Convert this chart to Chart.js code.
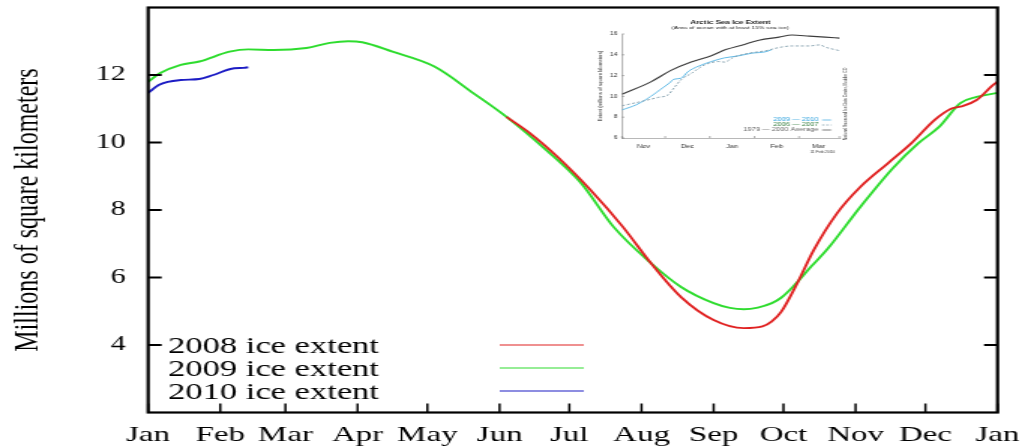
<!DOCTYPE html>
<html>
<head>
<meta charset="utf-8">
<script src="https://cdn.jsdelivr.net/npm/chart.js@4/dist/chart.umd.min.js"></script>
<style>
  html, body { margin: 0; padding: 0; background: #fff; }
  #wrap { position: relative; width: 1022px; height: 448px; overflow: hidden; }
  #main { position: absolute; left: 0; top: 0; width: 1022px; height: 448px; }
  #inset { position: absolute; left: 596px; top: 14px; width: 254px; height: 146px; }
</style>
</head>
<body>
<div id="wrap">
  <canvas id="main" width="681" height="448" style="width:1022px;height:448px"></canvas>
  <canvas id="inset" width="169" height="146" style="width:254px;height:146px"></canvas>
</div>
<script>
// main chart: x is day of year
const monthLabels = ["Jan", "Feb", "Mar", "Apr", "May", "Jun", "Jul", "Aug", "Sep", "Oct", "Nov", "Dec", "Jan"];
const monthStarts = [0, 31, 59, 90, 120, 151, 181, 212, 243, 273, 304, 334, 365];
const yTicks = [2, 4, 6, 8, 10, 12, 14];

const days2008 = [154, 164, 176, 190, 204, 216, 229, 243, 256, 264, 268, 272, 279, 286, 296, 306, 318, 328, 338, 345, 350, 356, 363, 365];
const ice2008 = [10.76, 10.28, 9.57, 8.6, 7.5, 6.43, 5.42, 4.74, 4.5, 4.55, 4.7, 4.98, 5.84, 6.81, 7.9, 8.68, 9.39, 9.98, 10.67, 11.0, 11.08, 11.26, 11.7, 11.8];

const days2009 = [0, 5, 14, 22, 35, 43, 54, 68, 78, 86, 92, 105, 123, 140, 154, 171, 186, 200, 216, 229, 243, 250, 256, 262, 268, 272, 277, 285, 292, 306, 320, 331, 340, 349, 356, 365];
const ice2009 = [11.8, 12.05, 12.3, 12.4, 12.69, 12.76, 12.74, 12.8, 12.95, 13.0, 12.97, 12.69, 12.25, 11.45, 10.76, 9.78, 8.8, 7.5, 6.43, 5.72, 5.24, 5.1, 5.06, 5.11, 5.24, 5.4, 5.72, 6.33, 6.85, 8.09, 9.24, 9.98, 10.47, 11.17, 11.35, 11.47];

const days2010 = [0, 5, 14, 22, 28, 37, 41, 43];
const ice2010 = [11.47, 11.72, 11.85, 11.88, 12.0, 12.2, 12.21, 12.23];

// inset chart: x is days since Nov 1
const insetLabels = ["Nov", "Dec", "Jan", "Feb", "Mar"];
const insetLabelDays = [15, 45.5, 76.5, 107.5, 136.5];
const insetMonthEdges = [0, 30, 61, 92, 123, 151];
const insetYTicks = [6, 8, 10, 12, 14, 16];

const daysAvg = [0, 20, 34, 48, 62, 72, 85, 95, 109, 118, 130, 141, 151];
const iceAvg = [10.2, 11.4, 12.5, 13.3, 13.9, 14.5, 15.0, 15.4, 15.7, 15.9, 15.8, 15.7, 15.6];
const days0910 = [0, 10, 20, 27, 33, 36, 41, 46, 53, 62, 71, 81, 90, 100, 104];
const ice0910 = [8.7, 9.2, 10.0, 10.7, 11.3, 11.65, 11.75, 12.4, 12.9, 13.35, 13.7, 13.9, 14.15, 14.3, 14.5];
const days0607 = [0, 13, 25, 32, 36, 41, 48, 57, 67, 71, 78, 88, 100, 109, 118, 130, 137, 142, 151];
const ice0607 = [9.1, 9.5, 9.9, 10.15, 10.8, 11.6, 12.2, 13.0, 13.35, 13.3, 13.8, 14.15, 14.4, 14.7, 14.85, 14.85, 14.95, 14.7, 14.4];

const pts = (xs, ys) => xs.map((d, i) => ({ x: d, y: ys[i] }));

// month starts plus thirds of each month for the small ticks
const xTickDays = [];
for (let i = 0; i < monthStarts.length - 1; i++) {
  const a = monthStarts[i], len = monthStarts[i + 1] - a;
  xTickDays.push(a, a + len / 3, a + 2 * len / 3);
}
xTickDays.push(365);

const serif = "'Liberation Serif', 'Times New Roman', serif";
const sans = "'Liberation Sans', Arial, sans-serif";

// scales add label padding to the chart area; the layout here is fixed by hand
function noPad(s) {
  s.paddingTop = 0; s.paddingBottom = 0; s.paddingLeft = 0; s.paddingRight = 0;
}

const frameAndTicks = {
  id: 'frameAndTicks',
  afterDatasetsDraw(chart) {
    const { ctx, chartArea: a, scales: { x, y } } = chart;
    ctx.save();
    ctx.strokeStyle = '#000';
    ctx.lineWidth = 2;
    yTicks.slice(1, -1).forEach(v => {
      const py = y.getPixelForValue(v);
      ctx.beginPath();
      ctx.moveTo(a.left, py); ctx.lineTo(a.left + 9, py);
      ctx.moveTo(a.right, py); ctx.lineTo(a.right - 9, py);
      ctx.stroke();
    });
    ctx.lineWidth = 1.5;
    x.ticks.forEach(t => {
      const px = x.getPixelForValue(t.value);
      const len = monthStarts.includes(t.value) ? 9 : 4.5;
      ctx.beginPath();
      ctx.moveTo(px, a.bottom); ctx.lineTo(px, a.bottom - len);
      ctx.stroke();
    });
    ctx.lineWidth = 2.2;
    ctx.strokeRect(a.left, a.top, a.right - a.left, a.bottom - a.top);

    // legend: text on the left, line sample further right
    ctx.font = '23px ' + serif;
    ctx.textBaseline = 'alphabetic';
    ctx.fillStyle = '#000';
    const rows = [345, 368, 391];
    chart.data.datasets.forEach((ds, i) => {
      ctx.fillText(ds.label, 112, rows[i] + 8);
      ctx.strokeStyle = ds.borderColor;
      ctx.lineWidth = 1.2;
      ctx.beginPath();
      ctx.moveTo(333, rows[i]); ctx.lineTo(389, rows[i]);
      ctx.stroke();
    });
    ctx.restore();
  }
};

new Chart(document.getElementById('main'), {
  type: 'line',
  data: {
    datasets: [
      { label: '2008 ice extent', data: pts(days2008, ice2008), borderColor: '#e02222' },
      { label: '2009 ice extent', data: pts(days2009, ice2009), borderColor: '#2edc2e' },
      { label: '2010 ice extent', data: pts(days2010, ice2010), borderColor: '#1c1cc4' }
    ]
  },
  options: {
    responsive: false,
    animation: false,
    devicePixelRatio: 1,
    layout: { autoPadding: false, padding: { left: 0, right: 16.3, top: 7.5, bottom: 0 } },
    elements: {
      point: { radius: 0 },
      line: { borderWidth: 1.9, cubicInterpolationMode: 'monotone' }
    },
    plugins: { legend: { display: false }, tooltip: { enabled: false } },
    scales: {
      x: {
        type: 'linear',
        min: 0,
        max: 365,
        afterBuildTicks: s => { s.ticks = xTickDays.map(v => ({ value: v })); },
        afterFit: s => { s.height = 35.5; noPad(s); },
        grid: { display: false, drawTicks: false },
        border: { display: false },
        ticks: {
          autoSkip: false,
          maxRotation: 0,
          padding: 10,
          color: '#000',
          font: { family: serif, size: 22 },
          callback: v => {
            const i = monthStarts.indexOf(v);
            return i >= 0 ? monthLabels[i] : null;
          }
        }
      },
      y: {
        min: 2,
        max: 14,
        afterBuildTicks: s => { s.ticks = yTicks.map(v => ({ value: v })); },
        afterFit: s => { s.width = 98.7; noPad(s); },
        grid: { display: false, drawTicks: false },
        border: { display: false },
        ticks: {
          padding: 15,
          color: '#000',
          font: { family: serif, size: 20 },
          callback: v => (v === 2 || v === 14) ? null : String(v)
        },
        title: {
          display: true,
          text: 'Millions of square kilometers',
          color: '#000',
          font: { family: serif, size: 24 },
          padding: { top: 4, bottom: 0 }
        }
      }
    }
  },
  plugins: [frameAndTicks]
});

const insetDecor = {
  id: 'insetDecor',
  afterDatasetsDraw(chart) {
    const { ctx, chartArea: a, scales: { x, y } } = chart;
    ctx.save();
    ctx.strokeStyle = '#777';
    ctx.lineWidth = 0.6;
    insetMonthEdges.forEach(d => {
      const px = x.getPixelForValue(d);
      ctx.beginPath(); ctx.moveTo(px, a.bottom); ctx.lineTo(px, a.bottom - 2); ctx.stroke();
    });
    insetYTicks.forEach(v => {
      const py = y.getPixelForValue(v);
      ctx.beginPath(); ctx.moveTo(a.left, py); ctx.lineTo(a.left + 1.6, py); ctx.stroke();
    });

    ctx.textAlign = 'center';
    ctx.textBaseline = 'middle';
    ctx.fillStyle = '#222';
    ctx.font = 'bold 5.4px ' + sans;
    ctx.fillText('Arctic Sea Ice Extent', 89.3, 9);
    ctx.font = '4.3px ' + sans;
    ctx.fillText('(Area of ocean with at least 15% sea ice)', 89.3, 13.5);

    // legend lower right
    const leg = [
      { text: '2009 \u2014 2010', color: '#2a9fdc', line: '#3aa8e0', dash: [], y: 106 },
      { text: '2006 \u2014 2007', color: '#2f7a3a', line: '#6f8f9f', dash: [1.5, 1.2], y: 111 },
      { text: '1979 \u2014 2000 Average', color: '#666', line: '#444', dash: [], y: 116 }
    ];
    ctx.textAlign = 'right';
    ctx.font = '5px ' + sans;
    leg.forEach(l => {
      ctx.fillStyle = l.color;
      ctx.fillText(l.text, 148, l.y);
      ctx.strokeStyle = l.line;
      ctx.lineWidth = 0.7;
      ctx.setLineDash(l.dash);
      ctx.beginPath(); ctx.moveTo(150.5, l.y); ctx.lineTo(156.5, l.y); ctx.stroke();
    });
    ctx.setLineDash([]);

    ctx.fillStyle = '#333';
    ctx.font = '3px ' + sans;
    ctx.textAlign = 'center';
    ctx.fillText('11 Feb 2010', 150.7, 138.5);

    ctx.translate(166, 90);
    ctx.rotate(-Math.PI / 2);
    ctx.font = '3.4px ' + sans;
    ctx.fillStyle = '#333';
    ctx.fillText('National Snow and Ice Data Center, Boulder CO', 0, 0);
    ctx.restore();
  }
};

new Chart(document.getElementById('inset'), {
  type: 'line',
  data: {
    datasets: [
      { label: '1979-2000 Average', data: pts(daysAvg, iceAvg), borderColor: '#3c3c3c', borderWidth: 1.1 },
      { label: '2006-2007', data: pts(days0607, ice0607), borderColor: '#6f8f9f', borderWidth: 0.8, borderDash: [2, 1.5] },
      { label: '2009-2010', data: pts(days0910, ice0910), borderColor: '#3aa8e0', borderWidth: 0.8 }
    ]
  },
  options: {
    responsive: false,
    animation: false,
    devicePixelRatio: 1,
    layout: { autoPadding: false, padding: { left: 0, right: 7, top: 20, bottom: 0 } },
    elements: {
      point: { radius: 0 },
      line: { cubicInterpolationMode: 'monotone' }
    },
    plugins: { legend: { display: false }, tooltip: { enabled: false } },
    scales: {
      x: {
        type: 'linear',
        min: 0,
        max: 151,
        afterBuildTicks: s => { s.ticks = insetLabelDays.map(v => ({ value: v })); },
        afterFit: s => { s.height = 22; noPad(s); },
        grid: { display: false, drawTicks: false },
        border: { display: true, color: '#888', width: 0.6 },
        ticks: {
          autoSkip: false,
          maxRotation: 0,
          padding: 6,
          color: '#333',
          font: { family: sans, size: 5 },
          callback: v => insetLabels[insetLabelDays.indexOf(v)]
        }
      },
      y: {
        min: 6,
        max: 16,
        afterBuildTicks: s => { s.ticks = insetYTicks.map(v => ({ value: v })); },
        afterFit: s => { s.width = 17.3; noPad(s); },
        grid: { display: false, drawTicks: false },
        border: { display: true, color: '#888', width: 0.6 },
        ticks: {
          padding: 3,
          color: '#333',
          font: { family: sans, size: 4.6 },
          callback: v => String(v)
        },
        title: {
          display: true,
          text: 'Extent (millions of square kilometers)',
          color: '#333',
          font: { family: sans, size: 4.3 },
          padding: { top: 0.5, bottom: 0 }
        }
      }
    }
  },
  plugins: [insetDecor]
});
</script>
</body>
</html>
